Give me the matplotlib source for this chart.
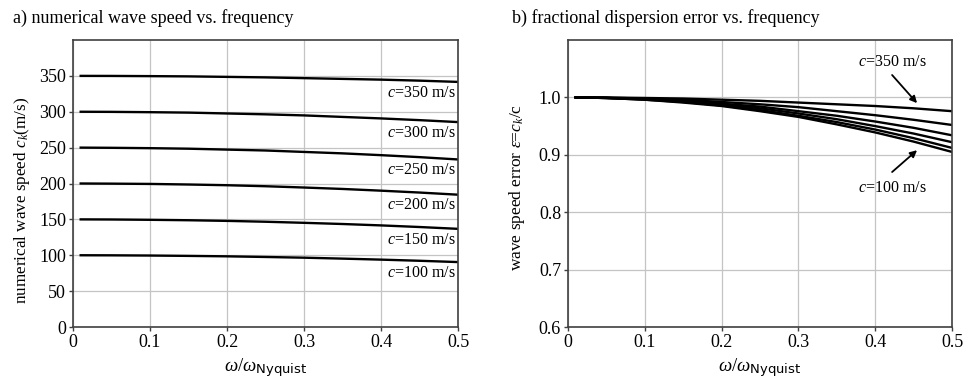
import matplotlib
matplotlib.use("Agg")
import matplotlib.pyplot as plt
import numpy as np

plt.rcParams['font.family'] = ['Liberation Serif', 'DejaVu Serif']
plt.rcParams['mathtext.fontset'] = 'custom'
plt.rcParams['mathtext.rm'] = 'Liberation Serif'
plt.rcParams['mathtext.it'] = 'Liberation Serif:italic'
plt.rcParams['mathtext.bf'] = 'Liberation Serif:bold'

# frequency (omega / omega_Nyquist)
freq = [0.01, 0.05, 0.10, 0.15, 0.20, 0.25, 0.30, 0.35, 0.40, 0.45, 0.50]

# true wave speeds (m/s)
speeds = [350, 300, 250, 200, 150, 100]

# fractional wave speed c_k / c
ratio_350 = [1.000, 0.9998, 0.999, 0.998, 0.996, 0.994, 0.991, 0.988, 0.985, 0.981, 0.976]
ratio_300 = [1.000, 0.9995, 0.998, 0.996, 0.992, 0.988, 0.983, 0.976, 0.969, 0.961, 0.952]
ratio_250 = [1.000, 0.999, 0.997, 0.994, 0.989, 0.984, 0.976, 0.968, 0.958, 0.947, 0.934]
ratio_200 = [1.000, 0.999, 0.997, 0.993, 0.988, 0.981, 0.972, 0.962, 0.950, 0.937, 0.922]
ratio_150 = [1.000, 0.999, 0.996, 0.992, 0.986, 0.978, 0.968, 0.957, 0.944, 0.929, 0.912]
ratio_100 = [1.000, 0.999, 0.996, 0.991, 0.985, 0.976, 0.966, 0.953, 0.939, 0.923, 0.905]
ratios = [ratio_350, ratio_300, ratio_250, ratio_200, ratio_150, ratio_100]

left_yticks = [0, 50, 100, 150, 200, 250, 300, 350]
right_yticks = [0.6, 0.7, 0.8, 0.9, 1.0]
xticks = [0, 0.1, 0.2, 0.3, 0.4, 0.5]

W, H = 972, 381
fig = plt.figure(figsize=(W / 100, H / 100), dpi=100)

def ax_rect(l, r, t, b):
    return [l / W, 1 - b / H, (r - l) / W, (b - t) / H]

axA = fig.add_axes(ax_rect(73, 458, 40, 327))
axB = fig.add_axes(ax_rect(568, 952, 40, 327))

spine_col = '#404040'
for ax in (axA, axB):
    for s in ax.spines.values():
        s.set_color(spine_col)
        s.set_linewidth(1.2)
    ax.grid(True, color='#c4c4c4', linewidth=0.9)
    ax.set_axisbelow(True)
    ax.tick_params(direction='out', length=3, width=1, color=spine_col,
                   labelsize=13, pad=2)
    ax.set_xlim(0, 0.5)
    ax.set_xticks(xticks)
    ax.set_xticklabels(['0', '0.1', '0.2', '0.3', '0.4', '0.5'])
    ax.set_xlabel(r'$\omega/\omega_{\mathsf{Nyquist}}$', fontsize=13.5, labelpad=4)

# Panel a
for c, r in zip(speeds, ratios):
    ck = np.array(r) * c
    axA.plot(freq, ck, color='black', linewidth=1.7)
    axA.text(0.497, c * r[-1] - 15, r'$c$=%d m/s' % c, ha='right', va='center',
             fontsize=11.5)
axA.set_ylim(0, 400)
axA.set_yticks(left_yticks)
axA.set_ylabel(r'numerical wave speed $c_k$(m/s)', fontsize=12.3)
axA.yaxis.set_label_coords(-0.107, 0.44)
fig.text(13 / W, 1 - 18 / H, 'a) numerical wave speed vs. frequency',
         fontsize=13, va='center', ha='left')

# Panel b
for c, r in zip(speeds, ratios):
    axB.plot(freq, r, color='black', linewidth=1.7)
axB.set_ylim(0.6, 1.1)
axB.set_yticks(right_yticks)
axB.set_yticklabels(['0.6', '0.7', '0.8', '0.9', '1.0'])
axB.set_ylabel(r'wave speed error $\varepsilon$=$c_k$/c', fontsize=12.5)
axB.yaxis.set_label_coords(-0.108, 0.487)
axB.annotate('', xy=(0.4545, 0.990), xytext=(0.422, 1.039),
             arrowprops=dict(arrowstyle='-|>', color='black', lw=1.3,
                             mutation_scale=10, shrinkA=0, shrinkB=0))
axB.text(0.422, 1.062, r'$c$=350 m/s', ha='center', va='center', fontsize=11.5)
axB.annotate('', xy=(0.4545, 0.908), xytext=(0.422, 0.870),
             arrowprops=dict(arrowstyle='-|>', color='black', lw=1.3,
                             mutation_scale=10, shrinkA=0, shrinkB=0))
axB.text(0.422, 0.843, r'$c$=100 m/s', ha='center', va='center', fontsize=11.5)
fig.text(512 / W, 1 - 18 / H, 'b) fractional dispersion error vs. frequency',
         fontsize=13, va='center', ha='left')

fig.savefig('out.png', dpi=100)
